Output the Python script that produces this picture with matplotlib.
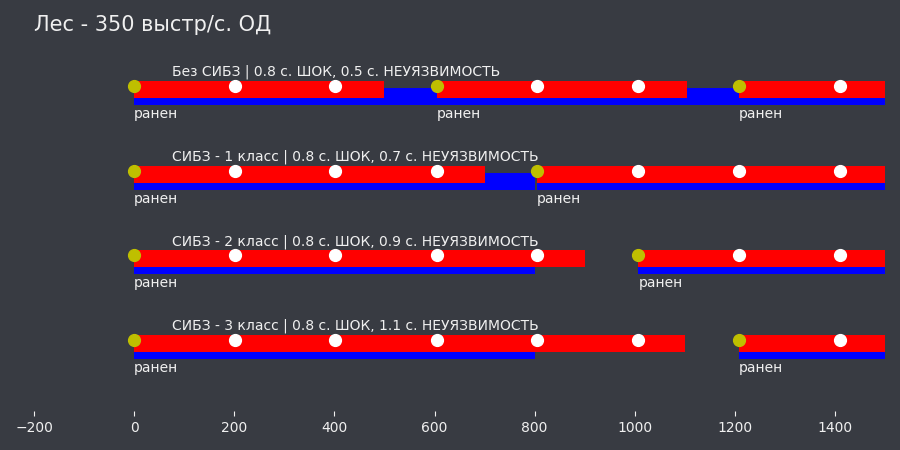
import matplotlib
matplotlib.use("Agg")
import matplotlib.pyplot as plt

# shot times (ms) and per-row settings
shots = [0, 201, 402, 604, 805, 1007, 1208, 1410]
labels = ["Без СИБЗ | 0.8 с. ШОК, 0.5 с. НЕУЯЗВИМОСТЬ",
          "СИБЗ - 1 класс | 0.8 с. ШОК, 0.7 с. НЕУЯЗВИМОСТЬ",
          "СИБЗ - 2 класс | 0.8 с. ШОК, 0.9 с. НЕУЯЗВИМОСТЬ",
          "СИБЗ - 3 класс | 0.8 с. ШОК, 1.1 с. НЕУЯЗВИМОСТЬ"]
shock = [800, 800, 800, 800]
invuln = [500, 700, 900, 1100]
hits = [[0, 604, 1208], [0, 805], [0, 1007], [0, 1208]]

bg = "#383b42"
fg = "#f0f0f0"

fig = plt.figure(figsize=(9, 4.5), dpi=100, facecolor=bg)
ax = fig.add_axes([0.0378, 0.0867, 0.9456, 0.8133], facecolor=bg)

rows = [4, 3, 2, 1]
for r, lab, sh, inv, hh in zip(rows, labels, shock, invuln, hits):
    for h in hh:
        ax.barh(r - 0.124, sh, left=h, height=0.2, color="blue", zorder=1)
    for h in hh:
        ax.barh(r - 0.041, inv, left=h, height=0.2, color="red", zorder=2)
        ax.text(h, r - 0.33, "ранен", color=fg, fontsize=10, ha="left", va="center")
    for s in shots:
        c = "#bfbf00" if s in hh else "white"
        ax.plot(s, r, "o", color=c, markersize=8.5, zorder=3)
    ax.text(75, r + 0.165, lab, color=fg, fontsize=10, ha="left", va="center")

ax.set_xlim(-200, 1500)
ax.set_ylim(0.165, 4.482)
ax.set_xticks([-200, 0, 200, 400, 600, 800, 1000, 1200, 1400])
ax.set_yticks([])
for sp in ax.spines.values():
    sp.set_visible(False)
ax.tick_params(axis="x", colors=fg, labelsize=10)

fig.text(0.038, 0.944, "Лес - 350 выстр/с. ОД", color=fg, fontsize=15, va="center", ha="left")

fig.savefig("out.png", dpi=100, facecolor=bg)
